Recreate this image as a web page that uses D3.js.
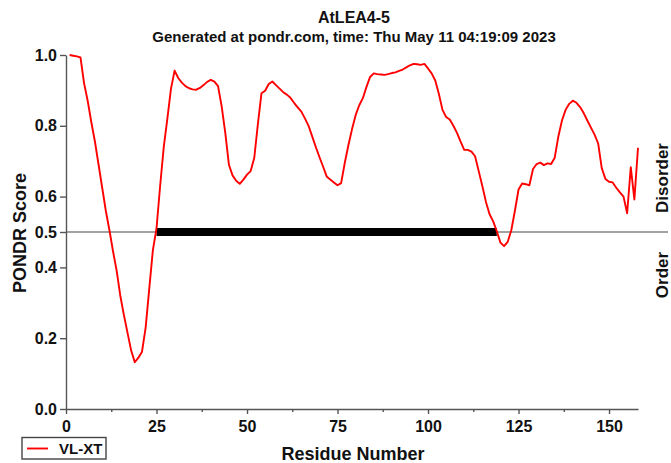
<!DOCTYPE html>
<html>
<head>
<meta charset="utf-8">
<script src="https://cdn.jsdelivr.net/npm/d3@7"></script>
<style>
  html, body { margin: 0; padding: 0; background: #fff; }
  svg { display: block; }
  text { font-family: "Liberation Sans", Arial, Helvetica, sans-serif; font-weight: bold; fill: #111; }
</style>
</head>
<body>
<svg id="chart" width="671" height="463"></svg>
<script>
// PONDR VL-XT disorder prediction for AtLEA4-5 (158 residues)
const chartTitle = "AtLEA4-5";
const chartSubtitle = "Generated at pondr.com, time: Thu May 11 04:19:09 2023";
const seriesName = "VL-XT";

// Score per residue, residue 1 .. 158
const scores = [
  1.000, 0.998, 0.996, 0.993, 0.920, 0.870, 0.810, 0.755, 0.690, 0.625,
  0.560, 0.505, 0.445, 0.390, 0.320, 0.265, 0.215, 0.165, 0.132, 0.145,
  0.162, 0.230, 0.340, 0.449, 0.510, 0.630, 0.740, 0.820, 0.905, 0.956,
  0.935, 0.922, 0.912, 0.906, 0.903, 0.902, 0.907, 0.915, 0.924, 0.930,
  0.925, 0.912, 0.855, 0.780, 0.690, 0.660, 0.645, 0.636, 0.648, 0.662,
  0.672, 0.709, 0.805, 0.892, 0.899, 0.918, 0.925, 0.915, 0.905, 0.895,
  0.888, 0.879, 0.865, 0.852, 0.840, 0.821, 0.800, 0.770, 0.740, 0.712,
  0.685, 0.657, 0.648, 0.640, 0.632, 0.638, 0.695, 0.745, 0.790, 0.830,
  0.858, 0.878, 0.910, 0.938, 0.948, 0.946, 0.945, 0.944, 0.946, 0.949,
  0.951, 0.955, 0.959, 0.965, 0.971, 0.975, 0.974, 0.972, 0.975, 0.962,
  0.948, 0.928, 0.890, 0.845, 0.825, 0.818, 0.800, 0.780, 0.755, 0.732,
  0.732, 0.727, 0.714, 0.672, 0.630, 0.585, 0.550, 0.530, 0.502, 0.470,
  0.460, 0.472, 0.505, 0.560, 0.620, 0.637, 0.635, 0.632, 0.678, 0.692,
  0.696, 0.689, 0.694, 0.692, 0.710, 0.770, 0.815, 0.845, 0.862, 0.871,
  0.865, 0.853, 0.836, 0.815, 0.795, 0.775, 0.750, 0.680, 0.650, 0.642,
  0.640, 0.625, 0.612, 0.600, 0.553, 0.683, 0.592, 0.738
];

// Predicted disordered regions [start, end] (residue numbers)
const disorderRegions = [[25, 119]];

const xTicks = [0, 25, 50, 75, 100, 125, 150];
const xMinorTicks = [12.5, 37.5, 62.5, 87.5, 112.5, 137.5];
const yTicks = [0.0, 0.2, 0.4, 0.5, 0.6, 0.8, 1.0];
const threshold = 0.5;

const data = scores.map((s, i) => ({ residue: i + 1, score: s }));

const svg = d3.select("#chart");
svg.append("rect").attr("width", 671).attr("height", 463).attr("fill", "#fff");

const x = d3.scaleLinear().domain([0, scores.length]).range([66, 638]);
const y = d3.scaleLinear().domain([0, 1]).range([409, 55]);

// Titles
svg.append("text").attr("x", 354).attr("y", 23).attr("text-anchor", "middle")
  .style("font-size", "16px").text(chartTitle);
svg.append("text").attr("x", 354).attr("y", 42).attr("text-anchor", "middle")
  .style("font-size", "15px").text(chartSubtitle);

// Threshold line across the plot
svg.append("line")
  .attr("x1", x(0)).attr("x2", 668)
  .attr("y1", y(threshold)).attr("y2", y(threshold))
  .attr("stroke", "#444").attr("stroke-width", 1.2);

// Disordered region bars on the threshold
svg.selectAll("rect.region").data(disorderRegions).enter().append("rect")
  .attr("class", "region")
  .attr("x", d => x(d[0]))
  .attr("width", d => x(d[1]) - x(d[0]))
  .attr("y", y(threshold) - 4)
  .attr("height", 8)
  .attr("fill", "#000");

// Axes
const axisColor = "#555";
const gx = svg.append("g").attr("transform", `translate(0,${y(0)})`)
  .call(d3.axisBottom(x).tickValues(xTicks).tickSize(5).tickSizeOuter(0).tickPadding(7).tickFormat(d3.format("d")));
const gxMinor = svg.append("g").attr("transform", `translate(0,${y(0)})`)
  .call(d3.axisBottom(x).tickValues(xMinorTicks).tickSize(3).tickSizeOuter(0).tickFormat(""));
gxMinor.select(".domain").remove();

const gy = svg.append("g").attr("transform", `translate(${x(0)},0)`)
  .call(d3.axisLeft(y).tickValues(yTicks).tickSize(6).tickSizeOuter(0).tickPadding(3).tickFormat(d3.format(".1f")));

[gx, gxMinor, gy].forEach(g => {
  g.selectAll(".domain").attr("stroke", axisColor).attr("stroke-width", 1.4);
  g.selectAll(".tick line").attr("stroke", axisColor).attr("stroke-width", 1.4);
  g.selectAll(".tick text").attr("fill", "#111")
    .style("font-size", "16px").style("font-family", "'Liberation Sans', Arial, sans-serif").style("font-weight", "bold");
});

// Score line
const line = d3.line().x(d => x(d.residue)).y(d => y(d.score));
svg.append("path").datum(data)
  .attr("d", line)
  .attr("fill", "none")
  .attr("stroke", "#ff0000")
  .attr("stroke-width", 1.9)
  .attr("stroke-linejoin", "round");

// Axis titles
svg.append("text").attr("x", 353).attr("y", 460).attr("text-anchor", "middle")
  .style("font-size", "18px").text("Residue Number");
svg.append("text").attr("transform", `translate(26,233) rotate(-90)`).attr("text-anchor", "middle")
  .style("font-size", "18px").text("PONDR Score");

// Side labels
svg.append("text").attr("transform", `translate(668,178) rotate(-90)`).attr("text-anchor", "middle")
  .style("font-size", "17px").text("Disorder");
svg.append("text").attr("transform", `translate(668,275) rotate(-90)`).attr("text-anchor", "middle")
  .style("font-size", "17px").text("Order");

// Legend
const legend = svg.append("g");
legend.append("rect").attr("x", 22).attr("y", 437.5).attr("width", 84).attr("height", 21.5)
  .attr("fill", "#fff").attr("stroke", "#444").attr("stroke-width", 1.4);
legend.append("line").attr("x1", 27).attr("x2", 48).attr("y1", 448.5).attr("y2", 448.5)
  .attr("stroke", "#ff0000").attr("stroke-width", 1.9);
legend.append("text").attr("x", 59).attr("y", 454).style("font-size", "15px").text(seriesName);
</script>
</body>
</html>
